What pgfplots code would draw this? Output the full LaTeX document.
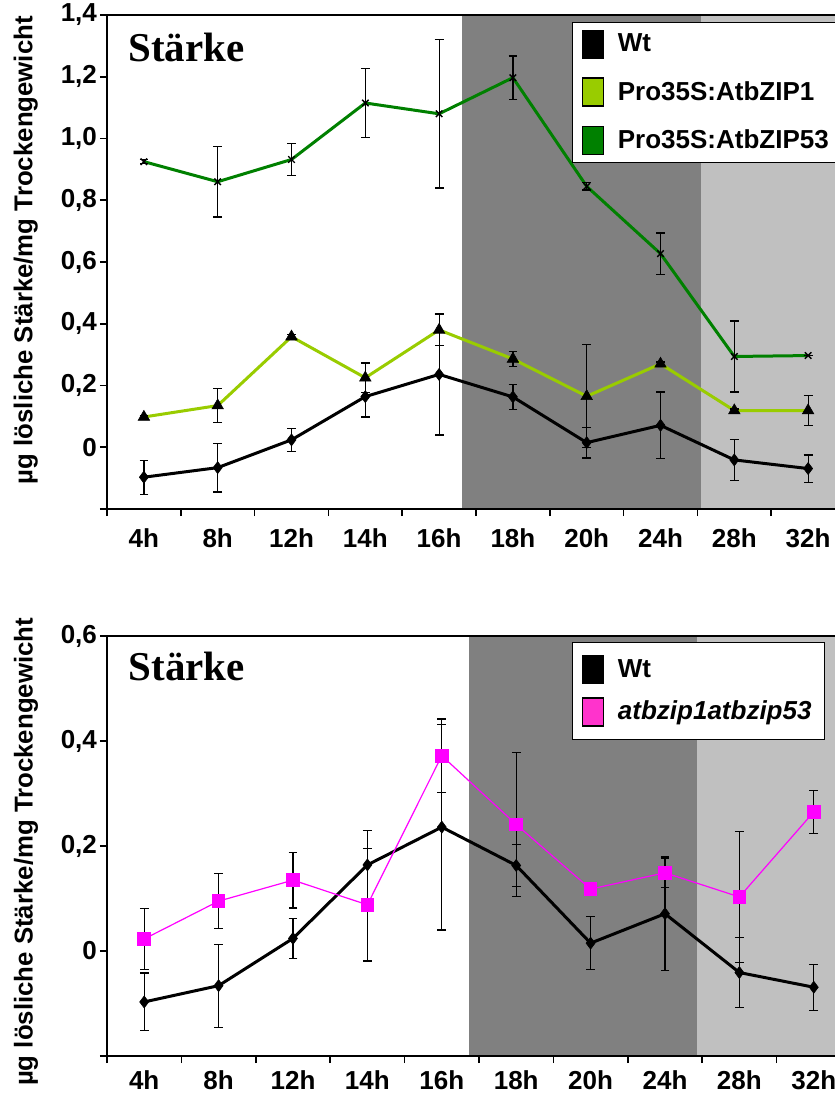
\documentclass[border=0pt]{standalone}
\usepackage{fontspec}
\setmainfont{Liberation Sans}
\newfontfamily\timesfont{Liberation Serif}
\usepackage{pgfplots}
\usepackage{pgfplotstable}
\pgfplotsset{compat=1.18}
\definecolor{limeg}{HTML}{99CC00}
\definecolor{dgreen}{HTML}{008000}
\definecolor{pinkline}{HTML}{FF00FF}
\definecolor{pinkpatch}{HTML}{FF33CC}
\definecolor{darkshade}{HTML}{808080}
\definecolor{lightshade}{HTML}{C0C0C0}

\pgfplotstableread{
x wt wte z1 z1e z53 z53e dko dkoe
0 -0.097 0.055 0.098 0.005 0.925 0.006 0.023 0.058
1 -0.066 0.079 0.135 0.055 0.860 0.114 0.095 0.052
2 0.024 0.038 0.358 0.006 0.932 0.053 0.135 0.053
3 0.164 0.066 0.225 0.048 1.115 0.113 0.088 0.107
4 0.236 0.196 0.380 0.050 1.080 0.240 0.372 0.070
5 0.163 0.040 0.286 0.025 1.197 0.070 0.241 0.137
6 0.015 0.050 0.165 0.167 0.845 0.012 0.118 0.000
7 0.071 0.108 0.270 0.006 0.627 0.067 0.149 0.028
8 -0.041 0.066 0.119 0.005 0.294 0.115 0.103 0.125
9 -0.069 0.044 0.119 0.048 0.297 0.000 0.265 0.041
}\data

\pgfplotsset{
  starke/.style={
    scale only axis, axis on top, clip=false,
    axis line style={line width=0.9pt},
    tick align=outside, major tick length=3.5pt,
    tick style={black, line width=0.8pt},
    tick pos=left,
    xmin=-0.5, xmax=9.5,
    xtick={-0.5,0.5,1.5,2.5,3.5,4.5,5.5,6.5,7.5,8.5,9.5},
    xticklabels={4h,8h,12h,14h,16h,18h,20h,24h,28h,32h,{}},
    tick label style={font=\bfseries\fontsize{13}{15}\selectfont},
    yticklabel style={xshift=2pt},
    ylabel={µg lösliche Stärke/mg Trockengewicht},
    legend cell align=left,
  },
  eb/.style={error bars/y dir=both, error bars/y explicit,
    error bars/error bar style={black, line width=0.6pt},
    error bars/error mark options={rotate=90, black, mark size=2.2pt, line width=0.6pt}},
  patch/.style={legend image code/.code={\draw[fill=#1,draw=black,line width=0.6pt] (0pt,-7pt) rectangle (10.5pt,7pt);}},
}

\begin{document}
\begin{tikzpicture}
\useasboundingbox (0,0) rectangle (417.5pt,-546.5pt);

% ---------- top panel ----------
\begin{axis}[starke,
  at={(53.5pt,-254.5pt)}, anchor=south west,
  width=369pt, height=247pt,
  ymin=-0.2, ymax=1.4,
  ytick={-0.2,0,0.2,0.4,0.6,0.8,1.0,1.2,1.4},
  yticklabels={{},{0},{0,2},{0,4},{0,6},{0,8},{1,0},{1,2},{1,4}},
  xticklabel style={xshift=18.45pt, yshift=-3pt},
  ylabel style={font=\bfseries\fontsize{12.9}{15}\selectfont, at={(axis description cs:-0.11,0.524)}, anchor=center},
  legend style={at={(0.630,0.986)}, anchor=north west, draw=black, line width=0.75pt,
    font=\bfseries\fontsize{13}{15.6}\selectfont, inner xsep=4.5pt, inner ysep=2.5pt,
    row sep=7.3pt, column sep=5pt, nodes={inner xsep=2pt, inner ysep=3pt}},
]
\addplot[fill=darkshade, draw=none, forget plot] coordinates {(4.31,-0.2) (4.31,1.4) (7.55,1.4) (7.55,-0.2)} -- cycle;
\addplot[fill=lightshade, draw=none, forget plot] coordinates {(7.55,-0.2) (7.55,1.4) (9.5,1.4) (9.5,-0.2)} -- cycle;

\addplot[black, line width=1.5pt, mark=diamond*, mark size=3pt, mark options={solid, line width=0.3pt, fill=black}, eb, forget plot]
  table[x=x, y=wt, y error=wte] {\data};
\addplot[limeg, line width=1.5pt, mark=triangle*, mark size=3.3pt, mark options={solid, black, line width=0.3pt, fill=black}, eb, forget plot]
  table[x=x, y=z1, y error=z1e] {\data};
\addplot[dgreen, line width=1.5pt, mark=x, mark size=2.3pt, mark options={solid, black, line width=0.7pt}, eb, forget plot]
  table[x=x, y=z53, y error=z53e] {\data};

\node[anchor=base west, inner sep=0pt, font=\timesfont\bfseries\fontsize{20.5}{24}\selectfont] at (rel axis cs:0.0285,0.905) {Stärke};

\addlegendimage{patch=black}\addlegendentry{Wt}
\addlegendimage{patch=limeg}\addlegendentry{Pro35S:AtbZIP1}
\addlegendimage{patch=dgreen}\addlegendentry{Pro35S:AtbZIP53}
\end{axis}

% ---------- bottom panel ----------
\begin{axis}[starke,
  at={(53.5pt,-528pt)}, anchor=south west,
  width=372pt, height=210pt,
  ymin=-0.2, ymax=0.6,
  ytick={-0.2,0,0.2,0.4,0.6},
  yticklabels={{},{0},{0,2},{0,4},{0,6}},
  xticklabel style={xshift=18.6pt, yshift=-0.3pt},
  ylabel style={font=\bfseries\fontsize{12.9}{15}\selectfont, at={(axis description cs:-0.109,0.486)}, anchor=center},
  legend style={at={(0.625,0.986)}, anchor=north west, draw=black, line width=0.75pt,
    font=\bfseries\fontsize{13}{15.6}\selectfont, inner xsep=4.5pt, inner ysep=5.3pt,
    row sep=4.5pt, column sep=5pt, nodes={inner xsep=2pt, inner ysep=3pt}},
]
\addplot[fill=darkshade, draw=none, forget plot] coordinates {(4.37,-0.2) (4.37,0.6) (7.43,0.6) (7.43,-0.2)} -- cycle;
\addplot[fill=lightshade, draw=none, forget plot] coordinates {(7.43,-0.2) (7.43,0.6) (9.5,0.6) (9.5,-0.2)} -- cycle;

\addplot[black, line width=1.5pt, mark=diamond*, mark size=3pt, mark options={solid, line width=0.3pt, fill=black}, eb, forget plot]
  table[x=x, y=wt, y error=wte] {\data};
\addplot[pinkline, line width=0.6pt, mark=square*, mark size=3.1pt, mark options={solid, pinkline, fill=pinkline}, eb, forget plot]
  table[x=x, y=dko, y error=dkoe] {\data};

\node[anchor=base west, inner sep=0pt, font=\timesfont\bfseries\fontsize{20.5}{24}\selectfont] at (rel axis cs:0.0285,0.895) {Stärke};

\addlegendimage{patch=black}\addlegendentry{Wt}
\addlegendimage{patch=pinkpatch}\addlegendentry{\itshape atbzip1atbzip53}
\end{axis}
\end{tikzpicture}
\end{document}
